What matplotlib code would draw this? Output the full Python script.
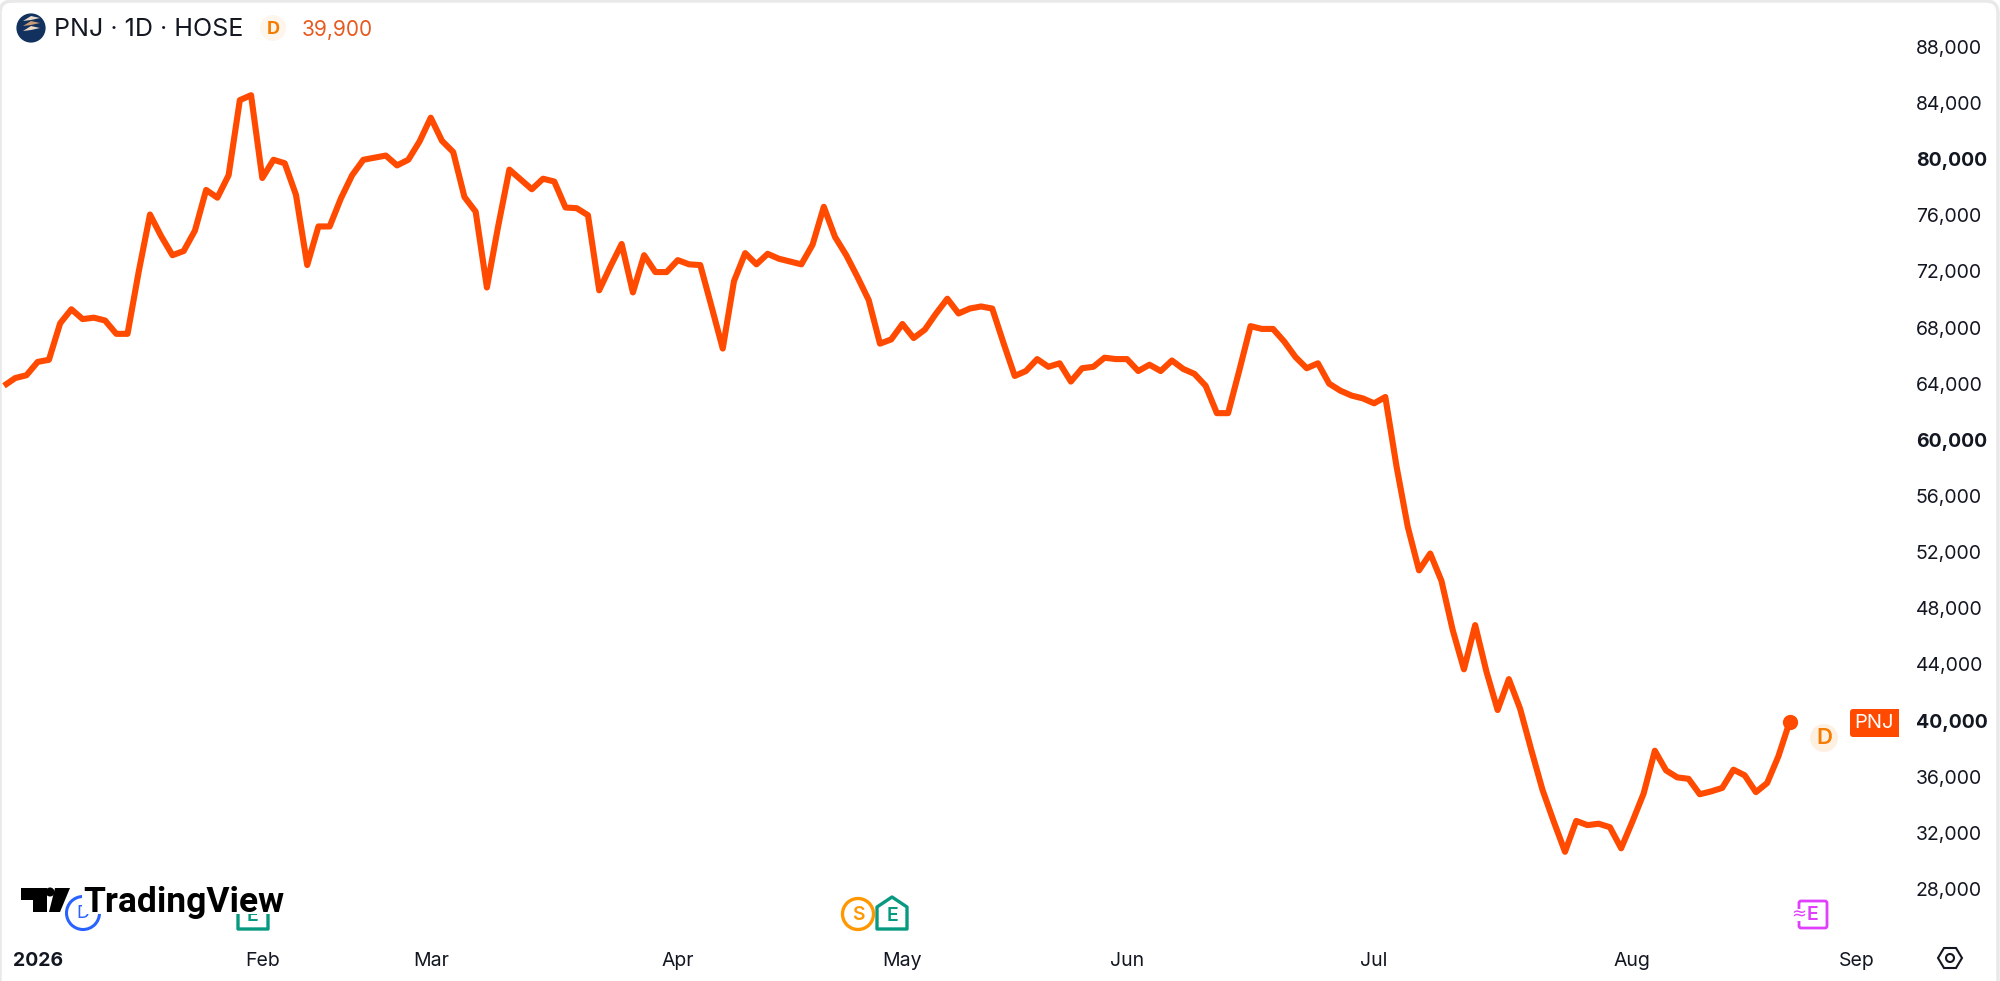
import numpy as np
import matplotlib
matplotlib.use('Agg')
import matplotlib.pyplot as plt
from matplotlib.patches import Circle, Polygon, Rectangle, FancyBboxPatch

# daily close
prices = [
    63850, 64400, 64600, 65550, 65700, 68300, 69300, 68600, 68700, 68500,
    67550, 67550, 72000, 76050, 74500, 73150, 73450, 74900, 77800, 77250,
    78850, 84200, 84550, 78650, 79950, 79700, 77450, 72450, 75200, 75200,
    77200, 78850, 79950, 80100, 80250, 79550, 79950, 81250, 82950, 81300,
    80500, 77300, 76250, 70850, 75200, 79250, 78550, 77850, 78600, 78400,
    76550, 76500, 76000, 70650, 72350, 73950, 70500, 73150, 71950, 71950,
    72800, 72500, 72450, 69500, 66500, 71300, 73300, 72500, 73250, 72900,
    72700, 72500, 73900, 76600, 74450, 73150, 71600, 69950, 66850, 67150,
    68250, 67250, 67850, 69000, 70050, 69000, 69350, 69500, 69350, 66900,
    64550, 64900, 65750, 65200, 65450, 64150, 65100, 65200, 65850, 65750,
    65750, 64900, 65350, 64900, 65650, 65050, 64700, 63850, 61900, 61900,
    64950, 68100, 67900, 67900, 67000, 65900, 65100, 65450, 64000, 63500,
    63150, 62950, 62600, 63050, 58100, 53800, 50700, 51900, 49950, 46450,
    43650, 46800, 43500, 40750, 42950, 40850, 37900, 35050, 32800, 30650,
    32850, 32550, 32650, 32400, 30900, 32800, 34800, 37850, 36450, 35950,
    35850, 34750, 34950, 35200, 36500, 36100, 34900, 35550, 37450, 39900,
]
y_ticks = [88000, 84000, 80000, 76000, 72000, 68000, 64000, 60000, 56000,
           52000, 48000, 44000, 40000, 36000, 32000, 28000]
bold_ticks = [80000, 60000, 40000]
month_pos = [3, 23, 38, 60, 80, 100, 122, 145, 165]
month_names = ['2026', 'Feb', 'Mar', 'Apr', 'May', 'Jun', 'Jul', 'Aug', 'Sep']

ORANGE = '#FF4A00'
GREEN = '#089981'
MAGENTA = '#E040FB'
W, H = 2000, 981

plt.rcParams['font.family'] = ['Inter', 'DejaVu Sans']

fig = plt.figure(figsize=(W / 100, H / 100), dpi=100, facecolor='white')

# main chart, pixel box 0..1900 x 0..930
ax = fig.add_axes([0, (H - 930) / H, 1900 / W, 930 / H])
ax.set_xlim(-0.356, 168.83)
ax.set_ylim(25079, 91332)
for s in ax.spines.values():
    s.set_visible(False)

days = np.arange(len(prices))
ax.plot(days, prices, color=ORANGE, lw=4.4, solid_joinstyle='round', solid_capstyle='butt')
ax.plot(days[-1], prices[-1], 'o', color=ORANGE, ms=11, mew=0)

ax.yaxis.tick_right()
ax.set_yticks(y_ticks)
ax.set_yticklabels([f'{v:,}' for v in y_ticks])
ax.tick_params(axis='y', length=0, pad=11.5, labelsize=14, labelcolor='#131722')
for lab, v in zip(ax.get_yticklabels(), y_ticks):
    lab.set_ha('left')
    if v in bold_ticks:
        lab.set_fontweight('bold')

ax.set_xticks(month_pos)
ax.set_xticklabels(month_names)
ax.tick_params(axis='x', length=0, pad=16, labelsize=14, labelcolor='#131722')
ax.get_xticklabels()[0].set_fontweight('bold')

# overlay in image pixels for header, badges and logo
ov = fig.add_axes([0, 0, 1, 1])
ov.set_xlim(0, W)
ov.set_ylim(H, 0)
ov.axis('off')
ov.patch.set_alpha(0)

ov.add_patch(FancyBboxPatch((0, 1), W - 2, H + 30, boxstyle='round,pad=0,rounding_size=12',
                            fc='none', ec='#e9e9ea', lw=2.5))

# header
ov.add_patch(Circle((31, 28), 14.6, fc='#12315E', ec='none'))
for dy, c in zip([-6, -1, 4], ['#E8D9C8', '#C89B72', '#E8D9C8']):
    ov.add_patch(Polygon([(23, 27 + dy), (31, 22 + dy), (40, 24 + dy), (31, 26 + dy)], fc=c, ec='none'))
ov.text(54, 30, 'PNJ · 1D · HOSE', fontsize=18, color='#131722', va='center', ha='left')
ov.add_patch(Circle((273, 28), 13, fc='#FEF6EC', ec='none'))
ov.text(273, 29, 'D', fontsize=13, color='#F57C00', fontweight='bold', va='center', ha='center')
ov.text(302, 30, '39,900', fontsize=15, color='#E8591F', va='center', ha='left')

# end of line tag and dividend badge
ov.add_patch(FancyBboxPatch((1852, 711), 45, 24, boxstyle='round,pad=2,rounding_size=3', fc=ORANGE, ec='none'))
ov.add_patch(Rectangle((1880, 709), 19, 28, fc=ORANGE, ec='none'))
ov.text(1874.5, 723, 'PNJ', fontsize=14.5, color='white', va='center', ha='center')
ov.add_patch(Circle((1824, 738), 14, fc='#FDF0E0', ec='none'))
ov.text(1824, 738.5, 'D', fontsize=16, color='#F57C00', fontweight='semibold', va='center', ha='center')

# event markers along the bottom
ov.add_patch(Circle((83, 913), 16.5, fc='white', ec='#2962FF', lw=2.2))
ov.text(83, 914, 'D', fontsize=13, color='#2962FF', va='center', ha='center')


def house(x0, x1, y0, y1, color):
    mid = (x0 + x1) / 2
    ov.add_patch(Polygon([(mid, y0), (x1, y0 + 10), (x1, y1), (x0, y1), (x0, y0 + 10)],
                         closed=True, fc='white', ec=color, lw=2.4, joinstyle='round'))
    ov.text(mid, (y0 + y1) / 2 + 3, 'E', fontsize=14, color=color, fontweight='semibold', va='center', ha='center')


house(238, 268, 897, 929, GREEN)
ov.add_patch(Circle((858, 914), 15.5, fc='white', ec='#FF9800', lw=2.4))
ov.text(858, 914.5, 'S', fontsize=14, color='#FF9800', fontweight='semibold', va='center', ha='center')
house(877, 907, 897, 929, GREEN)

ov.add_patch(FancyBboxPatch((1799, 901), 28, 27, boxstyle='round,pad=0,rounding_size=2',
                            fc='white', ec=MAGENTA, lw=2))
ov.add_patch(Rectangle((1792, 909), 11, 12, fc='white', ec='none'))
ov.text(1799, 914, '≈', fontsize=13, color=MAGENTA, va='center', ha='center', family=['DejaVu Sans'])
ov.text(1813, 915, 'E', fontsize=14, color=MAGENTA, fontweight='semibold', va='center', ha='center')

# settings button
ov.add_patch(Polygon([(1938, 958), (1944, 948), (1956, 948), (1962, 958), (1956, 968), (1944, 968)],
                     closed=True, fc='none', ec='#131722', lw=1.5))
ov.add_patch(Circle((1950, 958), 4, fc='none', ec='#131722', lw=1.5))

# watermark, sits on a white plate that hides the markers under it
ov.add_patch(Rectangle((82, 884), 200, 30, fc='white', ec='none', zorder=5))
ov.add_patch(Polygon([(21, 888), (47, 888), (47, 912), (33, 912), (33, 900), (21, 900)],
                     fc='black', ec='none', zorder=6))
ov.add_patch(Circle((50, 892), 4.5, fc='black', ec='none', zorder=6))
ov.add_patch(Polygon([(55, 888), (70, 888), (60, 912), (49, 912)], fc='black', ec='none', zorder=6))
ov.text(83, 912, 'TradingView', fontsize=25.5, color='black', fontweight='bold', family=['Roboto'],
        va='baseline', ha='left', zorder=6)

fig.savefig('out.png', dpi=100)
